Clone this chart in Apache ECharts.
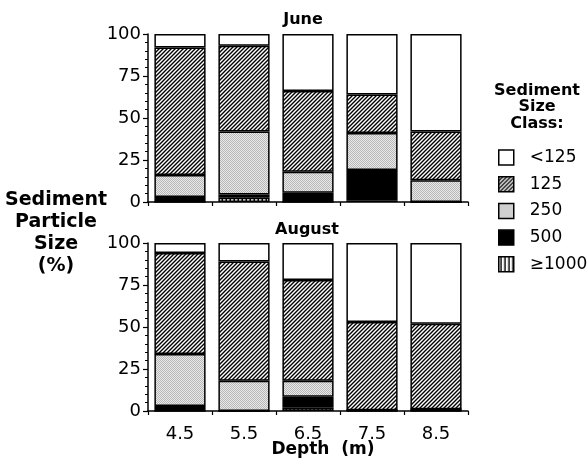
<!DOCTYPE html>
<html>
<head>
<meta charset="utf-8">
<script src="https://cdn.jsdelivr.net/npm/echarts@6/dist/echarts.min.js"></script>
<style>html,body{margin:0;padding:0;background:#fff}#c{width:587px;height:465px}</style>
</head>
<body>
<div id="c"></div>
<script>
// ---- data ----
var categories = ['4.5', '5.5', '6.5', '7.5', '8.5'];
var classNames = ['<125', '125', '250', '500', '≥1000'];
// June (% of sample per size class)
var june_ge1000 = [0, 2.5, 0, 1, 0];
var june_500    = [3, 2, 5.5, 18, 0];
var june_250    = [13, 37.5, 12.5, 22, 13];
var june_125    = [76, 51, 48, 23, 29];
var june_lt125  = [8, 7, 34, 36, 58];
// August
var aug_ge1000 = [0, 0, 2, 0, 0];
var aug_500    = [3, 0, 6.5, 0.5, 1];
var aug_250    = [31, 18, 9.5, 0, 0];
var aug_125    = [60, 71, 60, 52.5, 51];
var aug_lt125  = [6, 11, 22, 47, 48];
var yTicks = [0, 25, 50, 75, 100];

// ---- patterns ----
function makeCanvas(w, h, draw) {
  var c = document.createElement('canvas');
  c.width = w; c.height = h;
  draw(c.getContext('2d'));
  return c;
}
var hatch = makeCanvas(4, 4, function (g) {
  g.fillStyle = '#fff'; g.fillRect(0, 0, 4, 4);
  g.strokeStyle = '#000'; g.lineWidth = 1.4;
  g.beginPath();
  g.moveTo(-1, 5); g.lineTo(5, -1);
  g.moveTo(-3, 3); g.lineTo(3, -3);
  g.moveTo(1, 7); g.lineTo(7, 1);
  g.stroke();
});
var stipple = makeCanvas(2, 2, function (g) {
  g.fillStyle = '#e8e8e8'; g.fillRect(0, 0, 2, 2);
  g.fillStyle = '#b8b8b8'; g.fillRect(0, 0, 1, 1); g.fillRect(1, 1, 1, 1);
});
var vlines = makeCanvas(4, 4, function (g) {
  g.fillStyle = '#fff'; g.fillRect(0, 0, 4, 4);
  g.fillStyle = '#000'; g.fillRect(1.5, 0, 1.5, 4);
});
var fills = {
  '<125': '#ffffff',
  '125': { image: hatch, repeat: 'repeat' },
  '250': { image: stipple, repeat: 'repeat' },
  '500': '#000000',
  '≥1000': { image: vlines, repeat: 'repeat' }
};

var FONT = 'DejaVu Sans';
function yAxis(idx) {
  return {
    type: 'value', gridIndex: idx, min: 0, max: 100, interval: 25,
    axisLine: { show: true, lineStyle: { color: '#000', width: 1.5 } },
    axisTick: { show: true, length: 5, lineStyle: { color: '#000', width: 1.2 } },
    minorTick: { show: true, splitNumber: 5, length: 3, lineStyle: { color: '#000', width: 1 } },
    splitLine: { show: false },
    axisLabel: { color: '#000', fontSize: 18, fontFamily: FONT, margin: 7 }
  };
}
function xAxis(idx, showLabel) {
  return {
    type: 'category', gridIndex: idx, data: categories, boundaryGap: true,
    axisLine: { show: true, onZero: false, lineStyle: { color: '#000', width: 1.5 } },
    axisTick: { show: true, length: 4, alignWithLabel: false, lineStyle: { color: '#000', width: 1.2 } },
    axisLabel: { show: showLabel, color: '#000', fontSize: 18, fontFamily: FONT, margin: 14 },
    splitLine: { show: false }
  };
}
function barSeries(name, data, idx, stack) {
  return {
    name: name, type: 'bar', stack: stack, data: data,
    xAxisIndex: idx, yAxisIndex: idx, barWidth: '80%',
    itemStyle: { color: fills[name], borderColor: '#000', borderWidth: 1.5 },
    emphasis: { disabled: true }
  };
}

var series = [
  barSeries('≥1000', june_ge1000, 0, 'jun'),
  barSeries('500', june_500, 0, 'jun'),
  barSeries('250', june_250, 0, 'jun'),
  barSeries('125', june_125, 0, 'jun'),
  barSeries('<125', june_lt125, 0, 'jun'),
  barSeries('≥1000', aug_ge1000, 1, 'aug'),
  barSeries('500', aug_500, 1, 'aug'),
  barSeries('250', aug_250, 1, 'aug'),
  barSeries('125', aug_125, 1, 'aug'),
  barSeries('<125', aug_lt125, 1, 'aug')
];

var chart = echarts.init(document.getElementById('c'), null, { renderer: 'canvas' });
chart.setOption({
  animation: false,
  backgroundColor: '#fff',
  grid: [
    { left: 148, top: 34, width: 320, height: 168 },
    { left: 148, top: 243, width: 320, height: 168 }
  ],
  xAxis: [xAxis(0, false), xAxis(1, true)],
  yAxis: [yAxis(0), yAxis(1)],
  legend: {
    data: classNames, orient: 'vertical', left: 498, top: 149,
    itemWidth: 15, itemHeight: 15, itemGap: 9.7, icon: 'rect',
    selectedMode: false, padding: 0,
    itemStyle: { borderColor: '#000', borderWidth: 1.5 },
    textStyle: { color: '#000', fontSize: 17, fontFamily: FONT, lineHeight: 15, padding: [0, 0, 0, 11] }
  },
  graphic: [
    { type: 'text', style: { text: 'June', x: 303, y: 20, textAlign: 'center', textVerticalAlign: 'middle', font: 'bold 16px "DejaVu Sans"', fill: '#000' } },
    { type: 'text', style: { text: 'August', x: 307, y: 230, textAlign: 'center', textVerticalAlign: 'middle', font: 'bold 16px "DejaVu Sans"', fill: '#000' } },
    { type: 'text', style: { text: 'Depth  (m)', x: 323, y: 450, textAlign: 'center', textVerticalAlign: 'middle', font: 'bold 17px "DejaVu Sans"', fill: '#000' } },
    { type: 'text', style: { text: 'Sediment\nParticle\nSize\n(%)', x: 56, y: 233, textAlign: 'center', textVerticalAlign: 'middle', font: 'bold 19px "DejaVu Sans"', lineHeight: 22, fill: '#000' } },
    { type: 'text', style: { text: 'Sediment\nSize\nClass:', x: 537, y: 107, textAlign: 'center', textVerticalAlign: 'middle', font: 'bold 16px "DejaVu Sans"', lineHeight: 16.5, fill: '#000' } }
  ],
  series: series
});
</script>
</body>
</html>
